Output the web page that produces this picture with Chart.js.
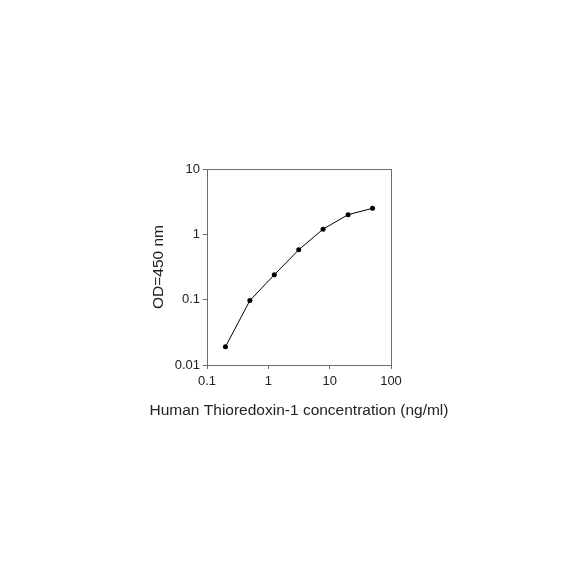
<!DOCTYPE html>
<html>
<head>
<meta charset="utf-8">
<script src="https://cdn.jsdelivr.net/npm/chart.js@4/dist/chart.umd.min.js"></script>
<style>
  html, body { margin: 0; padding: 0; background: #fff; }
  #chart { display: block; }
</style>
</head>
<body>
<canvas id="chart" width="584" height="584"></canvas>
<script>
const concentration = [0.2, 0.5, 1.25, 3.13, 7.8, 20, 50];
const od450 = [0.019, 0.097, 0.24, 0.58, 1.2, 2.0, 2.5];
const xTicks = [0.1, 1, 10, 100];
const xTickLabels = ["0.1", "1", "10", "100"];
const yTicks = [0.01, 0.1, 1, 10];
const yTickLabels = ["0.01", "0.1", "1", "10"];
const xTitle = "Human Thioredoxin-1 concentration (ng/ml)";

const axisColor = "#6e6e6e";
const textColor = "#222";
const fontFamily = "'Liberation Sans', Arial, sans-serif";

// box around the plot area, plus the x title (the built-in one gets squeezed to the axis width)
const frame = {
  id: "frame",
  afterDraw(chart) {
    const { ctx, chartArea: a } = chart;
    ctx.save();
    ctx.strokeStyle = axisColor;
    ctx.lineWidth = 1;
    ctx.strokeRect(a.left + 0.5, a.top + 0.5, a.right - a.left, a.bottom - a.top);
    ctx.fillStyle = textColor;
    ctx.font = "15.5px " + fontFamily;
    ctx.textAlign = "center";
    ctx.textBaseline = "middle";
    ctx.fillText(xTitle, (a.left + a.right) / 2, a.bottom + 46);
    ctx.restore();
  },
};

new Chart(document.getElementById("chart"), {
  type: "scatter",
  data: {
    datasets: [
      {
        data: concentration.map((x, i) => ({ x, y: od450[i] })),
        showLine: true,
        borderColor: "#000",
        borderWidth: 1,
        backgroundColor: "#000",
        pointRadius: 2.5,
        pointBorderWidth: 0,
      },
    ],
  },
  options: {
    responsive: false,
    animation: false,
    layout: { padding: { left: 0, top: 169, right: 193, bottom: 159 } },
    plugins: { legend: { display: false }, tooltip: { enabled: false } },
    scales: {
      x: {
        type: "logarithmic",
        min: 0.1,
        max: 100,
        afterBuildTicks: (s) => { s.ticks = xTicks.map((v) => ({ value: v })); },
        afterFit: (s) => { s.height = 60; },
        border: { color: axisColor, width: 1 },
        grid: { drawOnChartArea: false, color: axisColor, tickLength: 4 },
        ticks: {
          autoSkip: false,
          maxRotation: 0,
          padding: 5,
          color: textColor,
          font: { family: fontFamily, size: 13 },
          callback: (v, i) => xTickLabels[i],
        },
      },
      y: {
        type: "logarithmic",
        min: 0.01,
        max: 10,
        afterBuildTicks: (s) => { s.ticks = yTicks.map((v) => ({ value: v })); },
        afterFit: (s) => { s.width = 207; },
        border: { color: axisColor, width: 1 },
        grid: { drawOnChartArea: false, color: axisColor, tickLength: 4 },
        ticks: {
          autoSkip: false,
          padding: 3,
          color: textColor,
          font: { family: fontFamily, size: 13 },
          callback: (v, i) => yTickLabels[i],
        },
        title: {
          display: true,
          text: "OD=450 nm",
          color: textColor,
          font: { family: fontFamily, size: 15.5 },
          padding: { top: 149, bottom: 0 },
        },
      },
    },
  },
  plugins: [frame],
});
</script>
</body>
</html>
